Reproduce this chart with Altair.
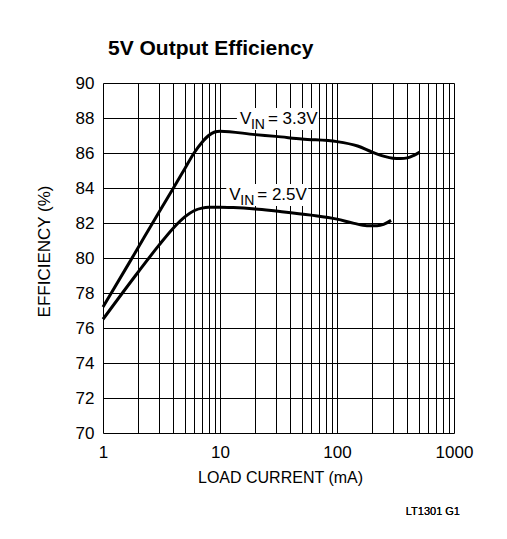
import altair as alt
import pandas as pd

# VIN = 3.3V curve
current_33 = [1, 1.65, 2, 3, 4, 5, 6, 7, 8, 9, 10, 20, 30, 50, 100, 150, 200, 250, 300, 350, 400, 450, 510]
eff_33 = [77.2, 79.65, 80.6, 82.6, 84.0, 85.1, 86.0, 86.6, 87.0, 87.2, 87.25, 87.05, 86.95, 86.8, 86.65,
          86.4, 86.05, 85.82, 85.7, 85.68, 85.72, 85.85, 86.05]
# VIN = 2.5V curve
current_25 = [1, 2, 3, 4, 5, 6, 7, 8, 10, 13, 20, 30, 60, 100, 140, 180, 220, 250, 290]
eff_25 = [76.5, 79.2, 80.72, 81.72, 82.35, 82.7, 82.85, 82.9, 82.9, 82.88, 82.8, 82.68, 82.45, 82.22,
          81.98, 81.85, 81.85, 81.92, 82.15]

series_names = ["3.3V", "2.5V"]

# curve labels (anchor in data coordinates)
label_main = ["V", "V"]
label_sub = ["IN", "IN"]
label_rest = ["= 3.3V", "= 2.5V"]
label_x = [14.8, 12.0]
label_y = [87.66, 83.31]

x_ticks = [1, 2, 3, 4, 5, 6, 7, 8, 9, 10, 20, 30, 40, 50, 60, 70, 80, 90,
           100, 200, 300, 400, 500, 600, 700, 800, 900, 1000]
y_ticks = [70, 72, 74, 76, 78, 80, 82, 84, 86, 88, 90]

FONT = "Liberation Sans, Arial, Helvetica, sans-serif"

df = pd.concat([
    pd.DataFrame({"current": current_33, "eff": eff_33, "series": series_names[0]}),
    pd.DataFrame({"current": current_25, "eff": eff_25, "series": series_names[1]}),
], ignore_index=True)
df["idx"] = range(len(df))

labels = pd.DataFrame({"x": label_x, "y": label_y, "main": label_main,
                       "sub": label_sub, "rest": label_rest})

xscale = alt.Scale(type="log", domain=[1, 1000], nice=False)
yscale = alt.Scale(domain=[70, 90], nice=False, zero=False)

xaxis = alt.Axis(
    values=x_ticks, format="d",
    labelExpr="indexof([1,10,100,1000], datum.value) >= 0 ? datum.label : ''",
    labelFlush=False, labelOverlap=False, labelBound=False,
    grid=True, gridColor="#000", gridWidth=1, gridOpacity=1,
    ticks=False, domain=False, labelPadding=11,
    labelFont=FONT, labelFontSize=17, labelColor="#000",
    title="LOAD CURRENT (mA)", titleFont=FONT, titleFontSize=16, titleFontWeight="normal",
    titleColor="#000", titleBaseline="alphabetic", titleY=49, titleX=177,
)
yaxis = alt.Axis(
    values=y_ticks, format="d",
    labelOverlap=False, labelFlush=False, labelBound=False,
    grid=True, gridColor="#000", gridWidth=1, gridOpacity=1,
    ticks=False, domain=False, labelPadding=9,
    labelFont=FONT, labelFontSize=17, labelColor="#000",
    title="EFFICIENCY (%)", titleFont=FONT, titleFontSize=17, titleFontWeight="normal",
    titleColor="#000", titleBaseline="middle", titleX=-59, titleY=168, titleAngle=-90,
)

lines = alt.Chart(df).mark_line(color="#000", strokeWidth=3, interpolate="monotone").encode(
    x=alt.X("current:Q", scale=xscale, axis=xaxis),
    y=alt.Y("eff:Q", scale=yscale, axis=yaxis),
    detail="series:N",
    order="idx:Q",
)

ax_x = alt.X("x:Q", scale=xscale, axis=xaxis)
ax_y = alt.Y("y:Q", scale=yscale, axis=yaxis)

boxes = alt.Chart(labels).mark_rect(
    color="white", xOffset=-3, x2Offset=79, yOffset=-16, y2Offset=6
).encode(x=ax_x, x2="x:Q", y=ax_y, y2="y:Q")

t_main = alt.Chart(labels).mark_text(
    align="left", baseline="alphabetic", font=FONT, fontSize=17, color="#000"
).encode(x=ax_x, y=ax_y, text="main:N")

t_sub = alt.Chart(labels).mark_text(
    align="left", baseline="alphabetic", font=FONT, fontSize=14, color="#000", dx=11, dy=5
).encode(x=ax_x, y=ax_y, text="sub:N")

t_rest = alt.Chart(labels).mark_text(
    align="left", baseline="alphabetic", font=FONT, fontSize=17, color="#000", dx=28
).encode(x=ax_x, y=ax_y, text="rest:N")

footnote = alt.Chart(labels).mark_text(
    align="right", baseline="alphabetic", font=FONT,
    fontSize=11, color="#000", dx=6, dy=82
).encode(x=alt.datum(1000, scale=xscale, axis=xaxis), y=alt.datum(70, scale=yscale, axis=yaxis),
         text=alt.value("LT1301 G1"))

chart = alt.layer(lines, boxes, t_main, t_sub, t_rest, footnote).properties(
    width=351, height=350,
    title=alt.TitleParams("5V Output Efficiency", anchor="start", frame="group", dx=5, dy=32,
                          offset=30, baseline="alphabetic",
                          font=FONT, fontSize=21, fontWeight="bold", color="#000"),
    autosize=alt.AutoSizeParams(type="none"),
    padding={"left": 103, "top": 83, "right": 53, "bottom": 106},
).configure_view(stroke="#222", strokeWidth=2).configure_axis(
    labelOverlap=False
).configure(background="white")

chart.save("out.html", embed_options={"renderer": "svg", "actions": False})
